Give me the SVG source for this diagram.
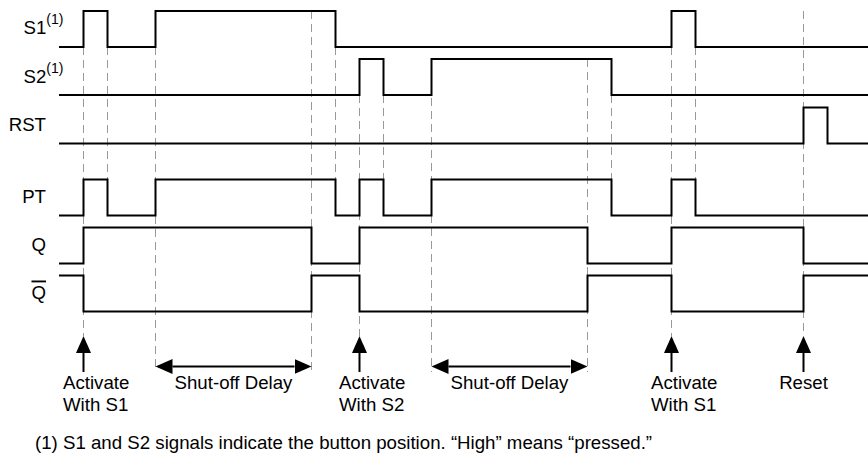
<svg xmlns="http://www.w3.org/2000/svg" width="868" height="454" viewBox="0 0 868 454">
<defs>
<style>
.lbl{font-family:"Liberation Sans",Arial,sans-serif;font-size:18.67px;fill:#000}
.sup{font-size:14px}
.wave{fill:none;stroke:#000;stroke-width:2;stroke-linejoin:miter;stroke-linecap:butt}
.dash{stroke:#999;stroke-width:1;stroke-dasharray:8,5;fill:none}
.arr{stroke:#000;stroke-width:2;fill:none}
</style>
<marker id="ah" markerUnits="userSpaceOnUse" markerWidth="18" markerHeight="16" refX="0" refY="7.5" orient="auto-start-reverse" viewBox="0 0 18 15">
<path d="M0,0 L17,7.5 L0,15 z" fill="#000"/>
</marker>
</defs>
<rect width="868" height="454" fill="#fff"/>

<g id="guides">
<line class="dash" x1="83.5" y1="47" x2="83.5" y2="336"/>
<line class="dash" x1="107.5" y1="47" x2="107.5" y2="179"/>
<line class="dash" x1="155.5" y1="47" x2="155.5" y2="372"/>
<line class="dash" x1="311.5" y1="11" x2="311.5" y2="372"/>
<line class="dash" x1="335.5" y1="47" x2="335.5" y2="179"/>
<line class="dash" x1="359.5" y1="95" x2="359.5" y2="336"/>
<line class="dash" x1="383.5" y1="95" x2="383.5" y2="179"/>
<line class="dash" x1="431.5" y1="59" x2="431.5" y2="372"/>
<line class="dash" x1="587.5" y1="59" x2="587.5" y2="372"/>
<line class="dash" x1="611.5" y1="95" x2="611.5" y2="179"/>
<line class="dash" x1="671.5" y1="47" x2="671.5" y2="336"/>
<line class="dash" x1="695.5" y1="47" x2="695.5" y2="179"/>
<line class="dash" x1="803.5" y1="11" x2="803.5" y2="336"/>
</g>

<g id="S1">
<text class="lbl" x="23.5" y="34">S1<tspan class="sup" dy="-10">(1)</tspan></text>
<path class="wave" d="M59,47 H83.5 V11 H107.5 V47 H155.5 V11 H335.5 V47 H671.5 V11 H695.5 V47 H868"/>
</g>
<g id="S2">
<text class="lbl" x="23.5" y="83">S2<tspan class="sup" dy="-10">(1)</tspan></text>
<path class="wave" d="M59,95 H359.5 V59 H383.5 V95 H431.5 V59 H611.5 V95 H868"/>
</g>
<g id="RST">
<text class="lbl" x="46" y="131" text-anchor="end">RST</text>
<path class="wave" d="M59,143.5 H803.5 V107.5 H827.5 V143.5 H868"/>
</g>
<g id="PT">
<text class="lbl" x="46" y="203" text-anchor="end">PT</text>
<path class="wave" d="M59,215.5 H83.5 V179.5 H107.5 V215.5 H155.5 V179.5 H335.5 V215.5 H359.5 V179.5 H383.5 V215.5 H431.5 V179.5 H611.5 V215.5 H671.5 V179.5 H695.5 V215.5 H868"/>
</g>
<g id="Q">
<text class="lbl" x="46" y="251" text-anchor="end">Q</text>
<path class="wave" d="M59,263.5 H83.5 V227.5 H311.5 V263.5 H359.5 V227.5 H587.5 V263.5 H671.5 V227.5 H803.5 V263.5 H868"/>
</g>
<g id="Qbar">
<text class="lbl" x="46" y="298.5" text-anchor="end" text-decoration="overline">Q</text>
<path class="wave" d="M59,275.5 H83.5 V311.5 H311.5 V275.5 H359.5 V311.5 H587.5 V275.5 H671.5 V311.5 H803.5 V275.5 H868"/>
</g>

<g id="connectors">
<line class="arr" x1="83.5" y1="372" x2="83.5" y2="353" marker-end="url(#ah)"/>
<line class="arr" x1="359.5" y1="372" x2="359.5" y2="353" marker-end="url(#ah)"/>
<line class="arr" x1="671.5" y1="372" x2="671.5" y2="353" marker-end="url(#ah)"/>
<line class="arr" x1="803.5" y1="372" x2="803.5" y2="353" marker-end="url(#ah)"/>
<line class="arr" x1="172.5" y1="366.5" x2="294.5" y2="366.5" marker-start="url(#ah)" marker-end="url(#ah)"/>
<line class="arr" x1="448.5" y1="366.5" x2="570.5" y2="366.5" marker-start="url(#ah)" marker-end="url(#ah)"/>
</g>

<g id="annot1"><text class="lbl" x="63" y="389.3">Activate</text><text class="lbl" x="63" y="410.7">With S1</text></g>
<g id="annot2"><text class="lbl" x="233.5" y="389" text-anchor="middle">Shut-off Delay</text></g>
<g id="annot3"><text class="lbl" x="339" y="389.3">Activate</text><text class="lbl" x="339" y="410.7">With S2</text></g>
<g id="annot4"><text class="lbl" x="509.5" y="389" text-anchor="middle">Shut-off Delay</text></g>
<g id="annot5"><text class="lbl" x="651" y="389.3">Activate</text><text class="lbl" x="651" y="410.7">With S1</text></g>
<g id="annot6"><text class="lbl" x="803.5" y="389.3" text-anchor="middle">Reset</text></g>
<g id="footnote"><text class="lbl" x="35" y="449">(1) S1 and S2 signals indicate the button position. “High” means “pressed.”</text></g>
</svg>
